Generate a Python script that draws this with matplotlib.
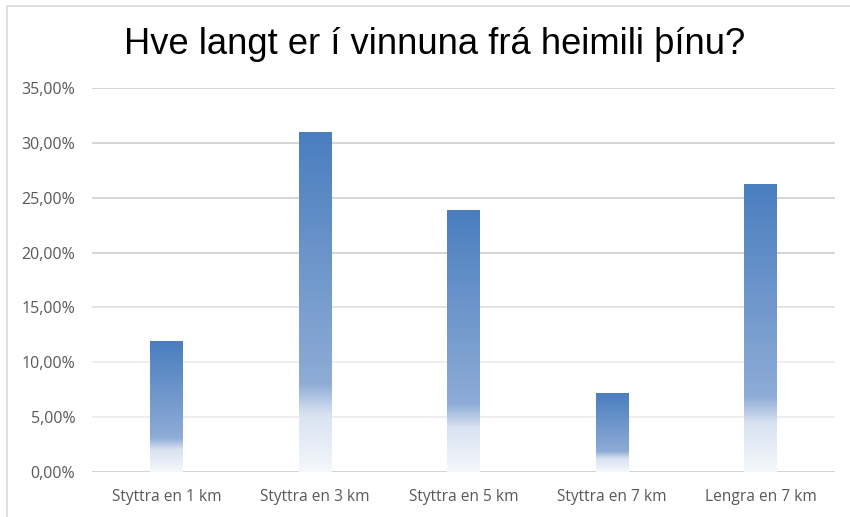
import numpy as np
import matplotlib

matplotlib.use("Agg")
import matplotlib.pyplot as plt  # noqa: E402
from matplotlib.colors import LinearSegmentedColormap  # noqa: E402
from matplotlib.patches import Rectangle  # noqa: E402

TITLE = "Hve langt er í vinnuna frá heimili þínu?"
categories = ["Styttra en 1 km", "Styttra en 3 km", "Styttra en 5 km",
              "Styttra en 7 km", "Lengra en 7 km"]
shares = [0.119, 0.3095, 0.238, 0.0714, 0.262]
y_ticks = [0.0, 0.05, 0.10, 0.15, 0.20, 0.25, 0.30, 0.35]
y_tick_labels = ["0,00%", "5,00%", "10,00%", "15,00%", "20,00%", "25,00%", "30,00%", "35,00%"]

# top of bar -> bottom of bar
GRADIENT = LinearSegmentedColormap.from_list(
    "office_fade",
    [(0.0, "#4A7EBF"), (0.74, "#8EACD6"), (0.83, "#D8E2F1"), (1.0, "#F5F8FC")],
)
TEXT_GRAY = "#595959"
FONT = ["Open Sans", "DejaVu Sans"]

fig = plt.figure(figsize=(8.5, 5.17), dpi=100)
fig.patches.append(Rectangle((7 / 850, -0.1), 1.2, (1 - 6 / 517) + 0.1,
                             transform=fig.transFigure, fill=False,
                             edgecolor="#D9D9D9", linewidth=1.2))
ax = fig.add_axes([92 / 850, 1 - 472 / 517, (835 - 92) / 850, (472 - 88) / 517])

grid_colors = ["#D0D0D0", "#EDEDED", "#EDEDED", "#E2E2E2", "#D2D2D2", "#D2D2D2", "#D2D2D2", "#D2D2D2"]
for value, color in zip(y_ticks, grid_colors):
    ax.axhline(value, color=color, linewidth=1.3, zorder=0)

bar_width = 0.22
grad = np.linspace(0, 1, 256).reshape(-1, 1)
for i, value in enumerate(shares):
    ax.imshow(grad, cmap=GRADIENT, aspect="auto", origin="upper",
              extent=(i - bar_width / 2, i + bar_width / 2, 0, value), zorder=2)

ax.set_xlim(-0.5, len(categories) - 0.5)
ax.set_ylim(0, 0.35)
ax.set_xticks(range(len(categories)))
ax.set_xticklabels(categories, fontsize=11.2, color=TEXT_GRAY, family=FONT)
ax.set_yticks(y_ticks)
ax.set_yticklabels(y_tick_labels, fontsize=11.5, color=TEXT_GRAY, family=FONT)
ax.tick_params(axis="x", length=0, pad=12)
ax.tick_params(axis="y", length=0, pad=12)
for spine in ax.spines.values():
    spine.set_visible(False)

fig.text(435 / 850, 1 - 45 / 517, TITLE, ha="center", va="center",
         fontsize=26.2, family=["Liberation Sans", "DejaVu Sans"], color="#000000")

fig.savefig("out.png", dpi=100)
